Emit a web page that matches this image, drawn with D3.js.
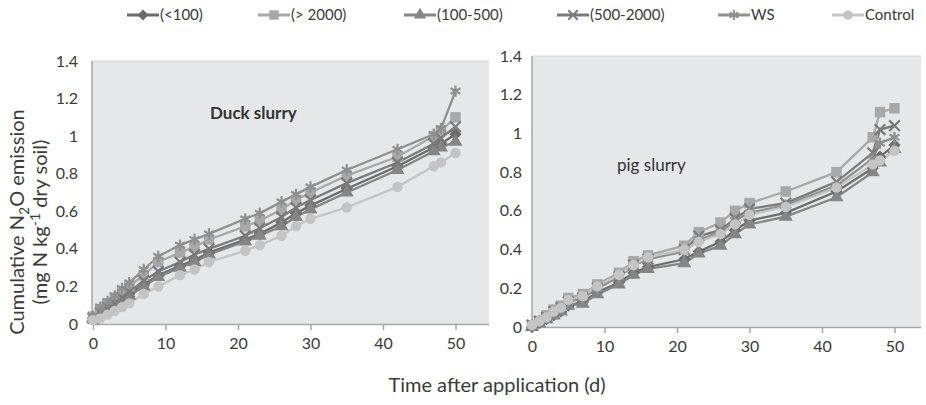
<!DOCTYPE html>
<html><head><meta charset="utf-8">
<script src="https://cdn.jsdelivr.net/npm/d3@7"></script>
<style>body{margin:0;background:#fff;} text{font-family:Lato,"Open Sans",sans-serif;}</style>
</head><body><svg id="c" width="926" height="405"></svg>
<script>
const days = [0,1,2,3,4,5,7,9,12,14,16,21,23,26,28,30,35,42,47,48,50];
const seriesNames = ["(<100)","(> 2000)","(100-500)","(500-2000)","WS","Control"];
const xTicks = [0,10,20,30,40,50];
const yTicks = [0,0.2,0.4,0.6,0.8,1,1.2,1.4];

// Duck slurry
const duckLt100   = [0.03,0.06,0.08,0.10,0.13,0.16,0.21,0.26,0.31,0.34,0.38,0.45,0.48,0.54,0.59,0.63,0.72,0.84,0.94,0.96,1.01];
const duckGt2000  = [0.04,0.08,0.11,0.14,0.17,0.20,0.26,0.33,0.38,0.41,0.45,0.52,0.55,0.61,0.66,0.70,0.79,0.89,1.00,1.03,1.10];
const duck100_500 = [0.03,0.05,0.08,0.10,0.12,0.15,0.20,0.25,0.30,0.33,0.37,0.44,0.47,0.52,0.57,0.61,0.70,0.82,0.92,0.94,0.97];
const duck500_2000= [0.03,0.06,0.09,0.11,0.14,0.17,0.23,0.28,0.33,0.37,0.40,0.47,0.51,0.57,0.62,0.66,0.75,0.86,0.96,0.99,1.05];
const duckWS      = [0.04,0.09,0.12,0.15,0.19,0.22,0.29,0.36,0.42,0.45,0.48,0.56,0.59,0.65,0.69,0.73,0.82,0.93,1.01,1.04,1.24];
const duckControl = [0.02,0.03,0.05,0.07,0.09,0.11,0.16,0.20,0.26,0.29,0.33,0.39,0.42,0.47,0.52,0.56,0.62,0.73,0.84,0.86,0.91];

// Pig slurry
const pigLt100   = [0.00,0.02,0.04,0.06,0.08,0.11,0.13,0.18,0.23,0.28,0.31,0.35,0.39,0.44,0.50,0.55,0.59,0.70,0.82,0.88,0.94];
const pigGt2000  = [0.01,0.03,0.06,0.09,0.11,0.15,0.17,0.22,0.28,0.34,0.37,0.42,0.49,0.54,0.60,0.64,0.70,0.80,0.98,1.11,1.13];
const pig100_500 = [0.00,0.02,0.04,0.06,0.08,0.11,0.12,0.17,0.22,0.27,0.30,0.33,0.38,0.42,0.48,0.53,0.57,0.67,0.80,0.85,0.92];
const pig500_2000= [0.01,0.03,0.05,0.08,0.10,0.13,0.15,0.20,0.26,0.32,0.35,0.40,0.47,0.50,0.56,0.61,0.64,0.75,0.90,1.02,1.04];
const pigWS      = [0.01,0.03,0.05,0.08,0.10,0.13,0.15,0.20,0.26,0.32,0.35,0.39,0.45,0.49,0.55,0.59,0.63,0.73,0.87,0.95,0.98];
const pigControl = [0.01,0.03,0.05,0.08,0.10,0.14,0.16,0.21,0.27,0.32,0.36,0.40,0.44,0.48,0.53,0.58,0.62,0.72,0.84,0.86,0.91];

const colors = ["#6b6b6b","#a8a8a8","#858585","#7a7a7a","#8f8f8f","#c4c4c4"];
const symbols = [d3.symbolDiamond2, d3.symbolSquare, d3.symbolTriangle, d3.symbolTimes, d3.symbolAsterisk, d3.symbolCircle];
const symSize = [95,110,85,75,90,85];
const strokeSym = [false,false,false,true,true,false];

const svg = d3.select("#c");

function panel(cfg){
  const g = svg.append("g");
  const x = d3.scaleLinear().domain([0,55]).range([cfg.x0, cfg.x0 + 7.25*55]);
  const y = d3.scaleLinear().domain([0,1.4]).range([cfg.yb, cfg.yt]);
  g.append("rect").attr("x",cfg.left).attr("y",cfg.yt).attr("width",cfg.right-cfg.left).attr("height",cfg.yb-cfg.yt).attr("fill","#e6e7e9");
  g.append("line").attr("x1",cfg.left).attr("x2",cfg.right).attr("y1",cfg.yt).attr("y2",cfg.yt).attr("stroke","#d6d6d6");
  g.append("line").attr("x1",cfg.left).attr("x2",cfg.left).attr("y1",cfg.yt).attr("y2",cfg.yb).attr("stroke","#a6a6a6").attr("stroke-width",1.5);
  const xa = g.append("g").attr("transform",`translate(0,${cfg.yb})`)
    .call(d3.axisBottom(x).tickValues(xTicks).tickSize(6).tickPadding(8).tickFormat(d3.format("d")));
  xa.select(".domain").attr("d",`M${cfg.left},0.5H${cfg.right}`).attr("stroke","#a6a6a6").attr("stroke-width",1.5);
  xa.selectAll(".tick line").attr("stroke","#a6a6a6").attr("stroke-width",1.5);
  xa.selectAll("text").attr("font-size",16).attr("fill","#3a3a3a").style("font-family","Lato");
  const ya = g.append("g").attr("transform",`translate(${cfg.left},0)`)
    .call(d3.axisLeft(y).tickValues(yTicks).tickSize(0).tickPadding(cfg.ypad).tickFormat(d=>d3.format("~g")(d)));
  ya.select(".domain").remove();
  ya.selectAll("text").attr("font-size",16).attr("fill","#3a3a3a").style("font-family","Lato");
  const line = d3.line().x((d,i)=>x(days[i])).y(d=>y(d));
  cfg.data.forEach((arr,k)=>{
    g.append("path").datum(arr).attr("d",line).attr("fill","none").attr("stroke",colors[k]).attr("stroke-width",2.3);
  });
  cfg.data.forEach((arr,k)=>{
    const sym = d3.symbol().type(symbols[k]).size(symSize[k]);
    g.selectAll(null).data(arr).enter().append("path")
      .attr("transform",(d,i)=>`translate(${x(days[i])},${y(d)})`)
      .attr("d",sym)
      .attr("fill",strokeSym[k]?"none":colors[k])
      .attr("stroke",colors[k]).attr("stroke-width",strokeSym[k]?2.2:0);
  });
  g.append("text").attr("x",cfg.tx).attr("y",cfg.ty).attr("font-size",17).attr("fill","#333")
    .attr("font-weight",cfg.bold?"bold":"normal").text(cfg.title);
}

panel({left:92, right:489, x0:93, yt:61, yb:324, ypad:14, data:[duckLt100,duckGt2000,duck100_500,duck500_2000,duckWS,duckControl], title:"Duck slurry", tx:210, ty:119, bold:true});
panel({left:532, right:921, x0:532, yt:56, yb:327, ypad:10, data:[pigLt100,pigGt2000,pig100_500,pig500_2000,pigWS,pigControl], title:"pig slurry", tx:617, ty:171, bold:false});

// Legend
const legX = [127, 258, 404, 557, 718, 832];
const leg = svg.append("g");
seriesNames.forEach((n,k)=>{
  const gx = legX[k];
  leg.append("line").attr("x1",gx).attr("x2",gx+32).attr("y1",15).attr("y2",15).attr("stroke",colors[k]).attr("stroke-width",3);
  leg.append("path").attr("transform",`translate(${gx+16},15)`).attr("d",d3.symbol().type(symbols[k]).size(symSize[k]*0.8))
    .attr("fill",strokeSym[k]?"none":colors[k]).attr("stroke",colors[k]).attr("stroke-width",strokeSym[k]?2:0);
  leg.append("text").attr("x",gx+33).attr("y",20).attr("font-size",15).attr("fill","#3a3a3a").text(n);
});

// Axis titles
const yt = svg.append("text").attr("transform","translate(24,222) rotate(-90)").attr("text-anchor","middle").attr("font-size",20).attr("fill","#3a3a3a");
yt.append("tspan").text("Cumulative N");
yt.append("tspan").attr("font-size",14).attr("dy",5).text("2");
yt.append("tspan").attr("dy",-5).text("O emission");
const yt2 = svg.append("text").attr("transform","translate(47,222) rotate(-90)").attr("text-anchor","middle").attr("font-size",20).attr("fill","#3a3a3a");
yt2.append("tspan").text("(mg N kg");
yt2.append("tspan").attr("font-size",14).attr("dy",-7).text("-1");
yt2.append("tspan").attr("dy",7).text("  dry soil)");
svg.append("text").attr("x",497).attr("y",392).attr("text-anchor","middle").attr("font-size",20).attr("fill","#3a3a3a").text("Time after application (d)");
</script></body></html>
